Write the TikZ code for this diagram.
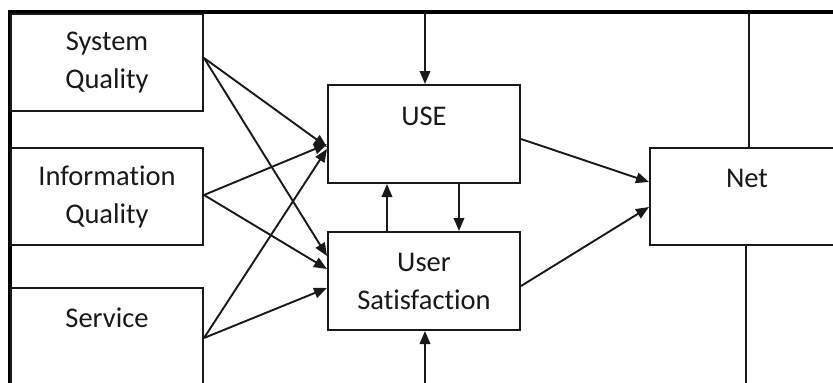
\documentclass[tikz,border=0pt]{standalone}
\usepackage{fontspec}
\setmainfont[RawFeature=-liga]{Carlito}
\usetikzlibrary{arrows.meta,calc}
\begin{document}
\begin{tikzpicture}[x=1pt,y=-1pt,
  box/.style={draw=black!90,line width=2pt,minimum width=#1,inner sep=0pt},
  box/.default=192pt,
  lbl/.style={font=\fontsize{28.5}{38}\selectfont,text=black!90,align=center,inner sep=0pt},
  conn/.style={line width=1.9pt,draw=black!90,-{Triangle[length=13pt,width=10.5pt]}},
  wire/.style={line width=1.9pt,draw=black!90},
  frame/.style={line width=3.4pt,draw=black}]
\useasboundingbox (0,0) rectangle (833,383);
\clip (0,0) rectangle (833,383);
\fill[white] (0,0) rectangle (833,383);

% outer frame (top rail and left rail)
\coordinate (ftl) at (10,12);
\coordinate (ftr) at (833,12);
\coordinate (fbl) at (10,383);
\draw[frame] (ftr) -- (ftl) -- (fbl);

% left column of inputs
\node[box,minimum height=97pt] (sq) at (107,62.5) {};
\node[lbl] (sqt) at (sq.center) {System\\Quality};
\node[box,minimum height=97pt] (iq) at (107,196.5) {};
\node[lbl] (iqt) at (iq.center) {Information\\Quality};
\node[box,minimum height=97pt] (sv) at (107,336.5) {};
\node[lbl] (svt) at (107,318) {Service};

% middle column
\node[box,minimum height=98pt] (use) at (424,134) {};
\node[lbl] (uset) at (424,116) {USE};
\node[box,minimum height=98pt] (us) at (424,281) {};
\node[lbl] (ust) at (us.center) {User\\Satisfaction};

% right column
\node[box=195pt,minimum height=97pt] (net) at (747.5,196.5) {};
\node[lbl] (nett) at (747,178) {Net};

% feedback rails from the outer frame
\coordinate (topin) at (425,12);
\coordinate (botin) at (425,383);
\coordinate (nettop) at (749,12);
\coordinate (netbot) at (746,383);
\draw[conn] (topin) -- (topin |- use.north);
\draw[conn] (botin) -- (botin |- us.south);
\draw[wire] (nettop |- net.north) -- (nettop);
\draw[wire] (netbot |- net.south) -- (netbot);

% USE <-> User Satisfaction
\draw[conn] ($(use.south)+(35,0)$) -- ($(us.north)+(35,0)$);
\draw[conn] ($(us.north)+(-37,0)$) -- ($(use.south)+(-37,0)$);

% inputs to USE and User Satisfaction
\coordinate (sqo) at ($(sq.east)+(0,-4.5)$);
\coordinate (iqo) at ($(iq.east)+(0,-1.5)$);
\coordinate (svo) at ($(sv.east)+(0,1.5)$);
\draw[conn] (sqo) -- ($(use.north west)+(0,63)$);
\draw[conn] (sqo) -- ($(us.north west)+(0,25)$);
\draw[conn] (iqo) -- ($(use.north west)+(0,60)$);
\draw[conn] (iqo) -- ($(us.north west)+(0,38)$);
\draw[conn] (svo) -- ($(use.north west)+(0,65)$);
\draw[conn] (svo) -- ($(us.north west)+(0,57)$);

% outputs to Net
\draw[conn] ($(use.north east)+(0,55)$) -- ($(net.north west)+(0,35)$);
\draw[conn] ($(us.north east)+(0,55)$) -- ($(net.north west)+(0,60)$);
\end{tikzpicture}
\end{document}
